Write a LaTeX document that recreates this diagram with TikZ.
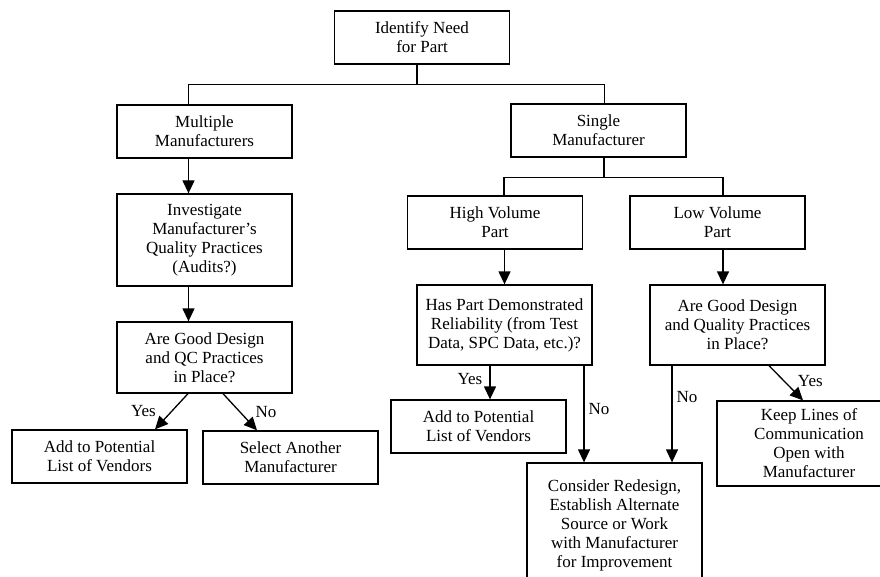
\documentclass[tikz,border=0pt]{standalone}
\usepackage{fontspec}
\setmainfont{Liberation Serif}
\usetikzlibrary{arrows.meta}

\begin{document}
\begin{tikzpicture}[x=1pt,y=-1pt,
    box/.style={draw, line width=1.3pt, minimum width=175, minimum height=53,
        align=center, inner sep=0pt, font=\fontsize{17}{19}\selectfont},
    line/.style={line width=1.3pt},
    arr/.style={line width=1.3pt, -{Triangle[length=13pt,width=12pt]}},
    lbl/.style={inner sep=1pt, font=\fontsize{17}{19}\selectfont}]

    % page frame
    \useasboundingbox (0,0) rectangle (880,577);

    % top of the tree
    \node[box] (idn) at (422,37.5) {Identify Need\\for Part};
    \node[box] (multi) at (204.5,131.5) {Multiple\\Manufacturers};
    \node[box] (single) at (598.5,130.5) {Single\\Manufacturer};

    % left branch
    \node[box, minimum height=92] (invest) at (204.5,240)
        {Investigate\\Manufacturer's\\Quality Practices\\(Audits?)};
    \node[box, minimum height=71] (qcq) at (204.5,357.5)
        {Are Good Design\\and QC Practices\\in Place?};
    \node[box] (addL) at (99.5,456.5) {Add to Potential\\List of Vendors};
    \node[box] (selectm) at (290.5,457.5) {Select Another\\Manufacturer};

    % right branch
    \node[box] (highv) at (495,222.5) {High Volume\\Part};
    \node[box] (lowv) at (717.5,222.5) {Low Volume\\Part};
    \node[box, minimum height=80] (relq) at (504.5,325)
        {Has Part Demonstrated\\Reliability (from Test\\Data, SPC Data, etc.)?};
    \node[box, minimum height=80] (dqq) at (737.5,325)
        {Are Good Design\\and Quality Practices\\in Place?};
    \node[box] (addM) at (478.5,426.5) {Add to Potential\\List of Vendors};
    \node[box, minimum height=124] (consider) at (614.5,525)
        {Consider Redesign,\\Establish Alternate\\Source or Work\\with Manufacturer\\for Improvement};
    \node[box, minimum width=184, minimum height=85] (keep) at (809,443.5)
        {Keep Lines of\\Communication\\Open with\\Manufacturer};

    % tree lines
    \draw[line] ([xshift=-5]idn.south) -- ++(0,20) coordinate (tj);
    \draw[line] ([xshift=-16]multi.north) |- (tj) -| ([xshift=6]single.north);
    \draw[line] ([xshift=5.5]single.south) -- ++(0,20) coordinate (sj);
    \draw[line] ([xshift=9]highv.north) |- (sj) -| ([xshift=5.5]lowv.north);

    % arrows, left branch
    \draw[arr] ([xshift=-16]multi.south) -- ([xshift=-16]invest.north);
    \draw[arr] ([xshift=-16]invest.south) -- ([xshift=-16]qcq.north);
    \draw[arr] ([xshift=-16.5]qcq.south) -- node[lbl,midway,left=14pt] {Yes}
        ([xshift=55.5]addL.north);
    \draw[arr] ([xshift=18.5]qcq.south) -- node[lbl,midway,right=14pt] {No}
        ([xshift=-33.5]selectm.north);

    % arrows, right branch
    \draw[arr] (highv.south -| relq.north) -- (relq.north);
    \draw[arr] ([xshift=5.5]lowv.south) -- ([xshift=5.5]lowv.south |- dqq.north);
    \draw[arr] ([xshift=-14.5]relq.south) -- node[lbl,pos=0.4,left=6pt] {Yes}
        ([xshift=-14.5]relq.south |- addM.north);
    \draw[arr] ([xshift=79.5]relq.south) -- node[lbl,pos=0.45,right=3pt] {No}
        ([xshift=79.5]relq.south |- consider.north);
    \draw[arr] ([xshift=-65.5]dqq.south) -- node[lbl,pos=0.32,right=3pt] {No}
        ([xshift=-65.5]dqq.south |- consider.north);
    \draw[arr] ([xshift=31.5]dqq.south) -- node[lbl,pos=0.45,right=12pt] {Yes}
        ([xshift=-6]keep.north);

\end{tikzpicture}
\end{document}
